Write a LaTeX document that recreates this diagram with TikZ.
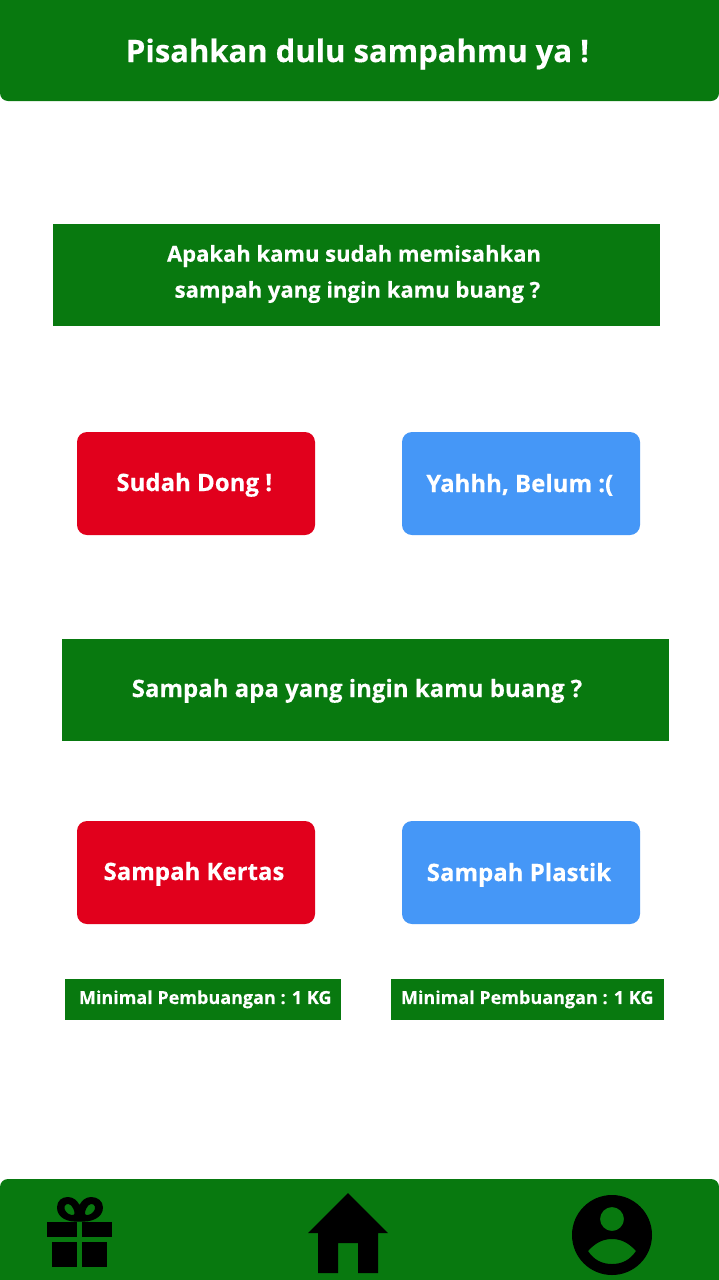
\documentclass[tikz,border=0pt]{standalone}
\usepackage{fontspec}
\setmainfont[BoldFeatures={FakeBold=0.25}]{Open Sans}
\definecolor{gr}{HTML}{08790F}
\definecolor{rd}{HTML}{E1001C}
\definecolor{bl}{HTML}{4597F7}
\tikzset{
 lbl/.style={text=white,font=\bfseries\fontsize{#1}{#1}\selectfont,inner sep=0pt,align=center},
 panel/.style={fill=gr,draw=none},
 btn/.style={draw=none,rounded corners=10pt},
 icon/.style={fill=black,draw=none}
}
\begin{document}
\begin{tikzpicture}[x=1pt,y=-1pt]
\useasboundingbox (0,0) rectangle (719,1280);
\fill[white] (0,0) rectangle (719,1280);
% bars
\fill[panel,rounded corners=8pt] (0,-20) rectangle (719,101);
\fill[panel,rounded corners=8pt] (0,1179) rectangle (719,1300);
\node[lbl=31] (title) at (357.5,54) {Pisahkan dulu sampahmu ya !};
% question 1
\fill[panel] (53,224) rectangle (660,326);
\node[lbl=22] (q1a) at (354,256) {Apakah kamu sudah memisahkan};
\node[lbl=22] (q1b) at (357.5,292) {sampah yang ingin kamu buang ?};
% buttons
\fill[btn,fill=rd] (77,432) rectangle (315,535);
\node[lbl=24] (b1) at (194.3,484.8) {Sudah Dong !};
\fill[btn,fill=bl] (402,432) rectangle (640,535);
\node[lbl=24] (b2) at (519.8,484.8) {Yahhh, Belum :(};
% question 2
\fill[panel] (62,639) rectangle (669,741);
\node[lbl=24] (q2) at (357,690.8) {Sampah apa yang ingin kamu buang ?};
\fill[btn,fill=rd] (77,821) rectangle (315,924);
\node[lbl=24] (b3) at (194,873.8) {Sampah Kertas};
\fill[btn,fill=bl] (402,821) rectangle (640,924);
\node[lbl=24] (b4) at (519,874.8) {Sampah Plastik};
% notes
\fill[panel] (65,979) rectangle (341,1020);
\node[lbl=18] (n1) at (205.2,999.3) {Minimal Pembuangan : 1 KG};
\fill[panel] (391,979) rectangle (664,1020);
\node[lbl=18] (n2) at (527.2,999.3) {Minimal Pembuangan : 1 KG};
% gift
\fill[icon] (47,1222) rectangle (77,1237);
\fill[icon] (82,1222) rectangle (112,1237);
\fill[icon] (52,1242) rectangle (77,1267);
\fill[icon] (82,1242) rectangle (107,1267);
\fill[icon,even odd rule]
 (79.5,1221.5) .. controls (68,1222.5) and (57,1218) .. (57,1207.5) .. controls (57,1200.5) and (62,1197) .. (68,1197) .. controls (73.5,1197) and (77.5,1201) .. (79.5,1205) .. controls (81.5,1201) and (85.5,1197) .. (91,1197) .. controls (97,1197) and (103,1200.5) .. (103,1207.5) .. controls (103,1218) and (91,1222.5) .. (79.5,1221.5) -- cycle
 (64.5,1206.5) .. controls (66,1202.5) and (71,1203) .. (73.5,1209) .. controls (75.5,1213.5) and (74.5,1215.5) .. (71.5,1215) .. controls (67.5,1214.5) and (63.5,1210) .. (64.5,1206.5) -- cycle
 (95,1206.5) .. controls (93.5,1202.5) and (88.5,1203) .. (86,1209) .. controls (84,1213.5) and (85,1215.5) .. (88,1215) .. controls (92,1214.5) and (96,1210) .. (95,1206.5) -- cycle;
% house
\fill[icon] (348,1193) -- (388,1233) -- (378,1233) -- (378,1273) -- (358,1273) -- (358,1243) -- (338,1243) -- (338,1273) -- (318,1273) -- (318,1233) -- (308,1233) -- cycle;
% user
\fill[icon,even odd rule] (612,1235) circle[radius=40pt]
 (612,1219) circle[radius=12pt]
 (588,1251) .. controls (596,1242) and (604,1239) .. (612,1239) .. controls (620,1239) and (628,1242) .. (636,1251) .. controls (630,1260) and (622,1264) .. (612,1264) .. controls (602,1264) and (594,1260) .. (588,1251) -- cycle;
\end{tikzpicture}
\end{document}
